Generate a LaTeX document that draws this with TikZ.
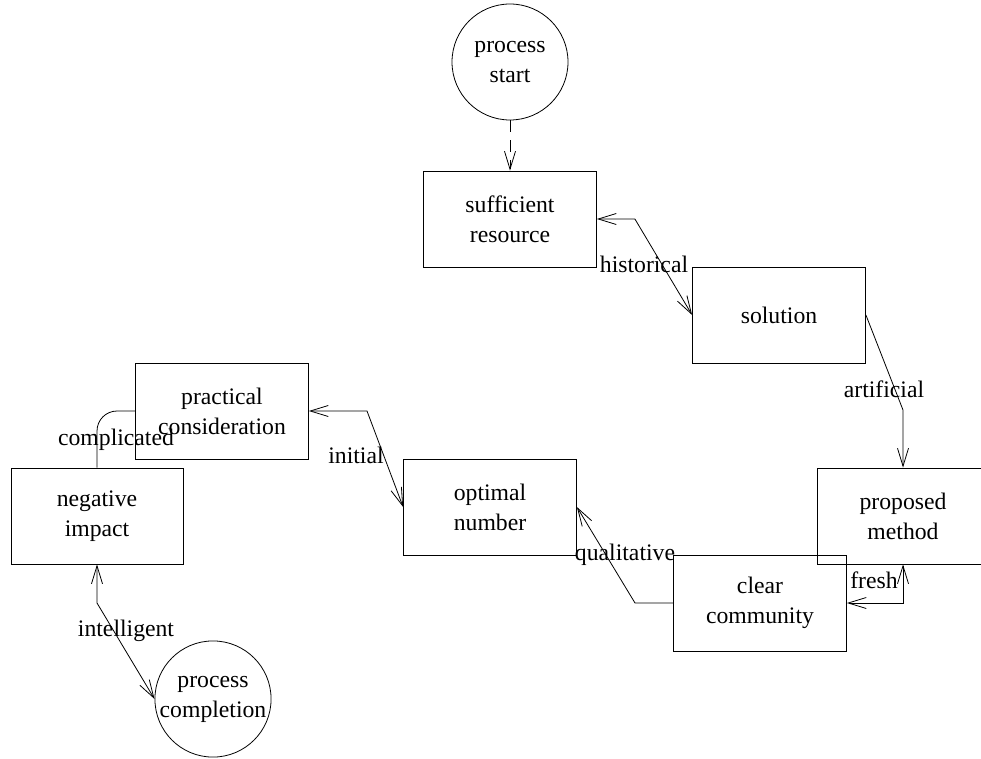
\documentclass[tikz,border=0pt]{standalone}
\usepackage{fontspec}
\setmainfont{Liberation Serif}
\usetikzlibrary{arrows.meta}
\begin{document}
\begin{tikzpicture}[x=1pt,y=-1pt,
  every node/.style={font=\fontsize{23.7}{30}\selectfont},
  box/.style={draw, line width=0.8pt, minimum width=173pt, minimum height=96pt, inner sep=0pt, align=center},
  circ/.style={draw, circle, line width=0.8pt, minimum size=116pt, inner sep=0pt, align=center},
  lbl/.style={anchor=base, inner sep=0pt},
  conn/.style={line width=0.8pt},
  tip/.tip={Straight Barb[length=18pt,width=11pt,line width=0.8pt]}
]
\useasboundingbox (0,0) rectangle (981,759);
\node[circ] (ps) at (510,62) {process\\start};
\node[box] (sr) at (510,219) {sufficient\\resource};
\node[box] (sol) at (779,315) {solution};
\node[box, minimum width=172pt] (pm) at (903,516) {proposed\\method};
\node[box] (cc) at (760,603) {clear\\community};
\node[box] (on) at (490,507) {optimal\\number};
\node[box] (pc) at (222,411) {practical\\consideration};
\node[box, minimum width=172pt] (ni) at (97,516) {negative\\impact};
\node[circ] (pcomp) at (213,699) {process\\completion};

\draw[conn, -tip, dash pattern=on 12pt off 8pt] (ps) -- (sr);
\draw[conn, tip-tip] (sr.east) -- ++(38,0) -- (sol.west);
\draw[conn, -tip] (sol.east) -- (903,410) -- (pm.north);
\draw[conn, tip-tip] (pm.south) -- (903,603) -- (cc.east);
\draw[conn, -tip] (cc.west) -- (635,603) -- (on.east);
\draw[conn, tip-tip] (pc.east) -- (367,411) -- (on.west);
\draw[conn, rounded corners=20pt] (pc.west) -- (97,411) -- (ni.north);
\draw[conn, tip-tip] (ni.south) -- (97,603) -- (pcomp.west);

\node[lbl] (l1) at (644,272) {historical};
\node[lbl] (l2) at (884,397) {artificial};
\node[lbl] (l3) at (874,588) {fresh};
\node[lbl] (l4) at (625,560) {qualitative};
\node[lbl] (l5) at (356,463) {initial};
\node[lbl] (l6) at (116,445) {complicated};
\node[lbl] (l7) at (126,636) {intelligent};
\end{tikzpicture}
\end{document}
